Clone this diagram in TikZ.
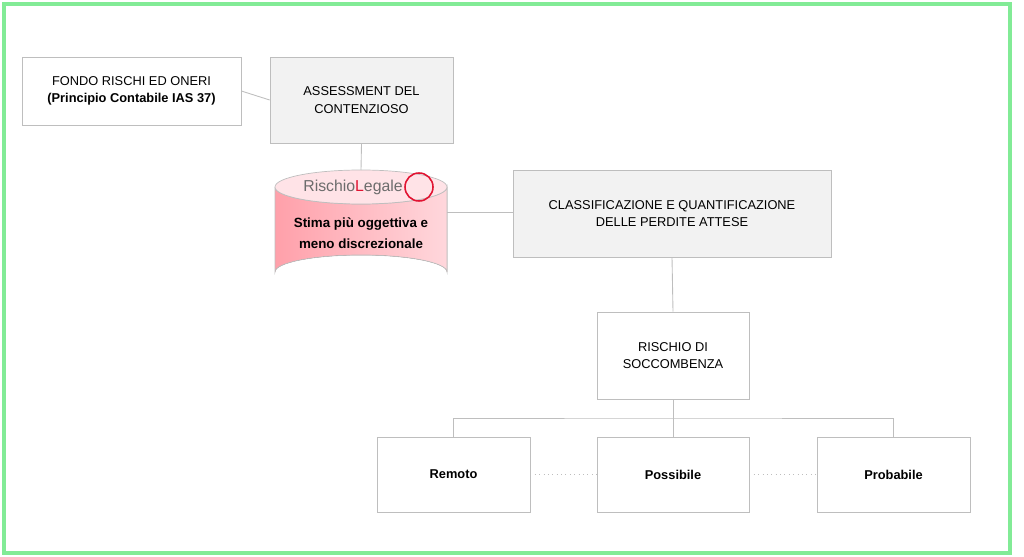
\documentclass[tikz,border=0pt]{standalone}
\usepackage{fontspec}
\setmainfont{Liberation Sans}
\usetikzlibrary{positioning}
\definecolor{frame}{RGB}{130,235,150}
\definecolor{boxfill}{RGB}{242,242,242}
\definecolor{boxline}{RGB}{190,190,190}
\definecolor{cylred}{RGB}{255,160,170}
\definecolor{cylpale}{RGB}{255,215,220}
\definecolor{logored}{RGB}{225,20,50}
\tikzset{
  box/.style={rectangle,draw=boxline,align=center,font=\fontsize{7.3}{10}\selectfont},
  link/.style={draw=boxline,line width=0.5pt}
}
\begin{document}
\begin{tikzpicture}[x=0.02cm,y=-0.02cm]
\useasboundingbox (0,0) rectangle (1024,557);
\draw[frame,line width=2.2pt](4,4) rectangle (1010,553);
%top row
\node[box,fill=white,minimum width=4.38cm,minimum height=1.36cm](fondo)at(131.5,91){FONDO RISCHI ED ONERI\\\textbf{(Principio Contabile IAS 37)}};
\node[box,fill=boxfill,minimum width=3.66cm,minimum height=1.72cm](assess)at(361.5,100){ASSESSMENT DEL\\CONTENZIOSO};
\node[box,fill=boxfill,minimum width=6.36cm,minimum height=1.74cm](classif)at(672,213.5){CLASSIFICAZIONE E QUANTIFICAZIONE\\DELLE PERDITE ATTESE};
\node[box,fill=white,minimum width=3.04cm,minimum height=1.74cm](soccomb)at(673,355.5){RISCHIO DI\\SOCCOMBENZA};
%bottom row
\node[box,fill=white,minimum width=3.06cm,minimum height=1.5cm,font=\fontsize{7.3}{10}\selectfont\bfseries](remoto)at(453.5,474.5){Remoto};
\node[box,fill=white,minimum width=3.04cm,minimum height=1.5cm,font=\fontsize{7.3}{10}\selectfont\bfseries](possib)at(673,474.5){Possibile};
\node[box,fill=white,minimum width=3.06cm,minimum height=1.5cm,font=\fontsize{7.3}{10}\selectfont\bfseries](probab)at(893.5,474.5){Probabile};
%cylinder
\coordinate (cyltop) at (361,170);
\coordinate (cylright) at (447,212);
\fill[left color=cylred,right color=cylpale,draw=boxline](275,187)--(275,272) arc(180:360:86 and 17)--(447,187) arc(0:180:86 and 17);
\fill[cylpale!70!white,draw=boxline](361,187) ellipse (86 and 17);
\node[font=\fontsize{9}{10}\selectfont,text=gray!85!black](logo)at(353,187){Rischio\textcolor{logored}{L}egale};
\draw[logored,line width=0.9pt](419,187) circle (14);
\node[align=center,font=\fontsize{7.6}{12}\selectfont\bfseries](stima)at(361,233){Stima più oggettiva e\\meno discrezionale};
%connectors
\draw[link](fondo.east)--(assess.west);
\draw[link](assess.south)--(cyltop);
\draw[link](cylright)--(classif.west|-cylright);
\draw[link](classif.south)--(soccomb.north);
\coordinate (split) at (673,418);
\draw[link](soccomb.south)--(split);
\draw[link](remoto.north)|-(split)-|(probab.north);
\draw[link](split)--(possib.north);
\draw[link,dotted](remoto.east)--(possib.west);
\draw[link,dotted](possib.east)--(probab.west);
\end{tikzpicture}
\end{document}
